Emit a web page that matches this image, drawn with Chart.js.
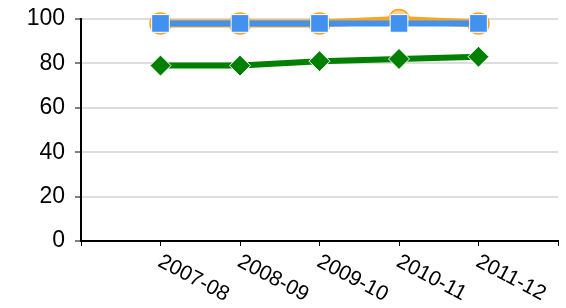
<!DOCTYPE html>
<html>
<head>
<meta charset="utf-8">
<script src="https://cdn.jsdelivr.net/npm/chart.js@4"></script>
<style>
  html, body { margin: 0; padding: 0; background: #fff; }
  #wrap { width: 566px; height: 308px; }
</style>
</head>
<body>
<div id="wrap"><canvas id="chart" width="566" height="308"></canvas></div>
<script>
// categories and series
const years = ['2007-08', '2008-09', '2009-10', '2010-11', '2011-12'];
const orangeValues = [98, 98, 98, 99.5, 98];
const blueValues = [98, 98, 98, 98, 98];
const greenValues = [79, 79, 81, 82, 83];
const yTicks = [0, 20, 40, 60, 80, 100];

function toPoints(values) {
    return values.map((v, i) => ({ x: i + 1, y: v }));
}

// rotated x labels, reading down to the right from each tick
const slantedLabels = {
    id: 'slantedLabels',
    afterDraw(chart) {
        const ctx = chart.ctx;
        const xScale = chart.scales.x;
        const top = chart.chartArea.bottom + 10;
        ctx.save();
        ctx.font = '21px "Liberation Sans", Arial, sans-serif';
        ctx.fillStyle = '#000';
        ctx.textAlign = 'left';
        ctx.textBaseline = 'top';
        years.forEach((label, i) => {
            const x = xScale.getPixelForValue(i + 1);
            ctx.save();
            ctx.translate(x + 4, top);
            ctx.rotate(28 * Math.PI / 180);
            ctx.fillText(label, 0, 0);
            ctx.restore();
        });
        ctx.restore();
    }
};

const ctx = document.getElementById('chart').getContext('2d');
const chart = new Chart(ctx, {
    type: 'line',
    data: {
        datasets: [
            {
                label: 'Blue',
                data: toPoints(blueValues),
                borderColor: '#4391ee',
                backgroundColor: '#4391ee',
                borderWidth: 6,
                pointStyle: 'rect',
                pointRadius: 12.5,
                pointBorderColor: '#ffffff',
                pointBorderWidth: 1,
                clip: false,
                order: 1
            },
            {
                label: 'Orange',
                data: toPoints(orangeValues),
                borderColor: '#f5a623',
                backgroundColor: '#fcd590',
                borderWidth: 8,
                pointStyle: 'circle',
                pointRadius: 10.5,
                pointBorderColor: '#f5a623',
                pointBorderWidth: 1.5,
                clip: false,
                order: 2
            },
            {
                label: 'Green',
                data: toPoints(greenValues),
                borderColor: '#008000',
                backgroundColor: '#008000',
                borderWidth: 6,
                pointStyle: 'rectRot',
                pointRadius: 10.5,
                pointBorderColor: '#ffffff',
                pointBorderWidth: 1,
                clip: false,
                order: 3
            }
        ]
    },
    options: {
        responsive: false,
        animation: false,
        layout: { autoPadding: false, padding: { top: 19, right: 8, left: 0, bottom: 0 } },
        plugins: {
            legend: { display: false },
            tooltip: { enabled: false }
        },
        scales: {
            x: {
                type: 'linear',
                min: 0,
                max: 6,
                ticks: { display: false, stepSize: 1 },
                grid: { display: true, drawOnChartArea: false, tickLength: 5, color: '#000', lineWidth: 1 },
                border: { color: '#000', width: 2 },
                afterFit(scale) {
                    scale.height = 67;
                    scale.paddingLeft = 0;
                    scale.paddingRight = 0;
                }
            },
            y: {
                min: 0,
                max: 100,
                afterBuildTicks(scale) { scale.ticks = yTicks.map(v => ({ value: v })); },
                ticks: {
                    color: '#000',
                    padding: 10,
                    font: { family: '"Liberation Sans", Arial, sans-serif', size: 23 }
                },
                grid: { color: '#dddddd', lineWidth: 2, tickLength: 6, tickColor: '#000', tickWidth: 1 },
                border: { color: '#000', width: 2 },
                afterFit(scale) {
                    scale.width = 81;
                    scale.paddingTop = 0;
                    scale.paddingBottom = 0;
                }
            }
        }
    },
    plugins: [slantedLabels]
});
</script>
</body>
</html>
